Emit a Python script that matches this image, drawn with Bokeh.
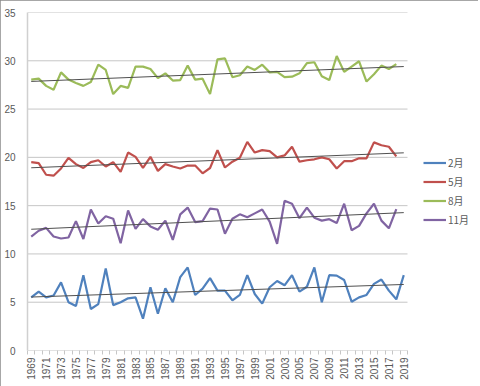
import numpy as np
from bokeh.plotting import figure
from bokeh.models import Range1d, FixedTicker, Legend, LegendItem
from bokeh.embed import file_html
from bokeh.resources import INLINE

years = list(range(1969, 2020))

feb = [5.5, 6.1, 5.5, 5.7, 7.05, 5.0, 4.6, 7.8, 4.3, 4.8, 8.5, 4.7, 5.0, 5.4, 5.5,
       3.3, 6.55, 3.8, 6.45, 5.0, 7.6, 8.6, 5.75, 6.4, 7.5, 6.2, 6.2, 5.2, 5.75, 7.8,
       5.85, 4.85, 6.55, 7.2, 6.75, 7.8, 6.1, 6.6, 8.6, 5.0, 7.8, 7.75, 7.3, 5.05, 5.5,
       5.75, 6.9, 7.35, 6.2, 5.3, 7.8]
may = [19.5, 19.4, 18.2, 18.1, 18.85, 19.95, 19.3, 18.9, 19.5, 19.7, 19.05, 19.5, 18.5,
       20.5, 20.05, 18.9, 20.05, 18.6, 19.3, 19.05, 18.85, 19.15, 19.15, 18.35, 18.9,
       20.75, 18.95, 19.55, 19.95, 21.6, 20.5, 20.75, 20.65, 20.0, 20.2, 21.1, 19.55,
       19.7, 19.8, 20.0, 19.8, 18.85, 19.6, 19.6, 19.9, 19.9, 21.55, 21.25, 21.1, 20.1]
aug = [28.05, 28.15, 27.4, 27.0, 28.8, 28.05, 27.7, 27.4, 27.8, 29.6, 29.05, 26.55,
       27.4, 27.2, 29.4, 29.4, 29.15, 28.2, 28.7, 27.95, 28.0, 29.5, 28.05, 28.15, 26.55,
       30.15, 30.25, 28.3, 28.5, 29.4, 29.05, 29.6, 28.8, 28.85, 28.3, 28.35, 28.7, 29.75,
       29.85, 28.4, 28.0, 30.5, 28.85, 29.4, 29.95, 27.85, 28.6, 29.5, 29.15, 29.65]
nov = [11.8, 12.4, 12.7, 11.8, 11.6, 11.7, 13.4, 11.55, 14.6, 13.15, 13.9, 13.65, 11.1,
       14.5, 12.6, 13.6, 12.85, 12.5, 13.45, 11.45, 14.1, 14.8, 13.3, 13.4, 14.7, 14.6,
       12.1, 13.65, 14.1, 13.8, 14.2, 14.6, 13.35, 11.05, 15.5, 15.2, 13.7, 14.8, 13.75,
       13.45, 13.6, 13.2, 15.2, 12.45, 12.9, 14.2, 15.2, 13.45, 12.65, 14.65]

series_names = ["2月", "5月", "8月", "11月"]
series_vals = [feb, may, aug, nov]
series_colors = ["#4F81BD", "#C0504D", "#9BBB59", "#8064A2"]

y_ticks = [0, 5, 10, 15, 20, 25, 30, 35]
x_label_years = years[::2]

W, H = 478, 386
left, top, bottom, right = 27, 12, 36, 4
x0, x1 = years[0] - 0.5, years[-1] + 0.5
axis_px = 380.0
x_end = x0 + (x1 - x0) * (W - left - right) / axis_px

p = figure(width=W, height=H, output_backend="svg", toolbar_location=None,
           x_range=Range1d(x0, x_end), y_range=Range1d(0, 35),
           min_border_left=left, min_border_right=right, min_border_top=top,
           min_border_bottom=bottom)
p.outline_line_color = None
p.background_fill_color = "white"
p.border_fill_color = "white"
p.styles = {"outline": "1px solid #8a8a8a", "outline-offset": "-1px"}

p.xgrid.visible = False
p.ygrid.visible = False
# horizontal gridlines, only across the category span
p.segment(x0=[x0] * len(y_ticks), x1=[x1] * len(y_ticks), y0=y_ticks, y1=y_ticks,
          line_color="#c6c6c6", line_width=1)

p.yaxis.ticker = FixedTicker(ticks=y_ticks)
p.yaxis.axis_line_color = "#d0d0d0"
p.yaxis.axis_line_width = 1.5
p.yaxis.major_tick_line_color = None
p.yaxis.minor_tick_line_color = None
p.yaxis.major_label_standoff = 6
p.yaxis.major_label_text_font = "Liberation Sans"
p.yaxis.major_label_text_font_size = "10px"
p.yaxis.major_label_text_color = "#595959"

p.xaxis.ticker = FixedTicker(ticks=x_label_years, minor_ticks=[y + 0.5 for y in range(years[0] - 1, years[-1] + 1)])
p.xaxis.axis_line_color = None
p.xaxis.major_tick_line_color = None
p.xaxis.major_tick_out = 0
p.xaxis.major_tick_in = 0
p.xaxis.minor_tick_line_color = "#c6c6c6"
p.xaxis.minor_tick_out = 4
p.xaxis.minor_tick_in = 0
p.xaxis.major_label_orientation = np.pi / 2
p.xaxis.major_label_standoff = 3
p.xaxis.major_label_text_font = "Liberation Sans"
p.xaxis.major_label_text_font_size = "10px"
p.xaxis.major_label_text_color = "#595959"

items = []
for name, vals, col in zip(series_names, series_vals, series_colors):
    xs = years[:len(vals)]
    r = p.line(xs, vals, line_color=col, line_width=2.2)
    items.append(LegendItem(label=name, renderers=[r]))

for name, vals in zip(series_names, series_vals):
    xs = np.array(years[:len(vals)], dtype=float)
    k, b = np.polyfit(xs, np.array(vals), 1)
    tx = [years[0], years[-1]]
    p.line(tx, [k * t + b for t in tx], line_color="#505050", line_width=1)

legend = Legend(items=items, location=(423 - left, (H - bottom) - 227), orientation="vertical",
                glyph_width=23, glyph_height=15, label_height=15, spacing=4,
                label_standoff=2, padding=0, margin=0,
                label_text_font="Noto Sans CJK JP", label_text_font_size="10px",
                label_text_color="#595959", border_line_color=None,
                background_fill_alpha=0)
p.add_layout(legend, "center")

open("out.html", "w").write(file_html(p, INLINE))
